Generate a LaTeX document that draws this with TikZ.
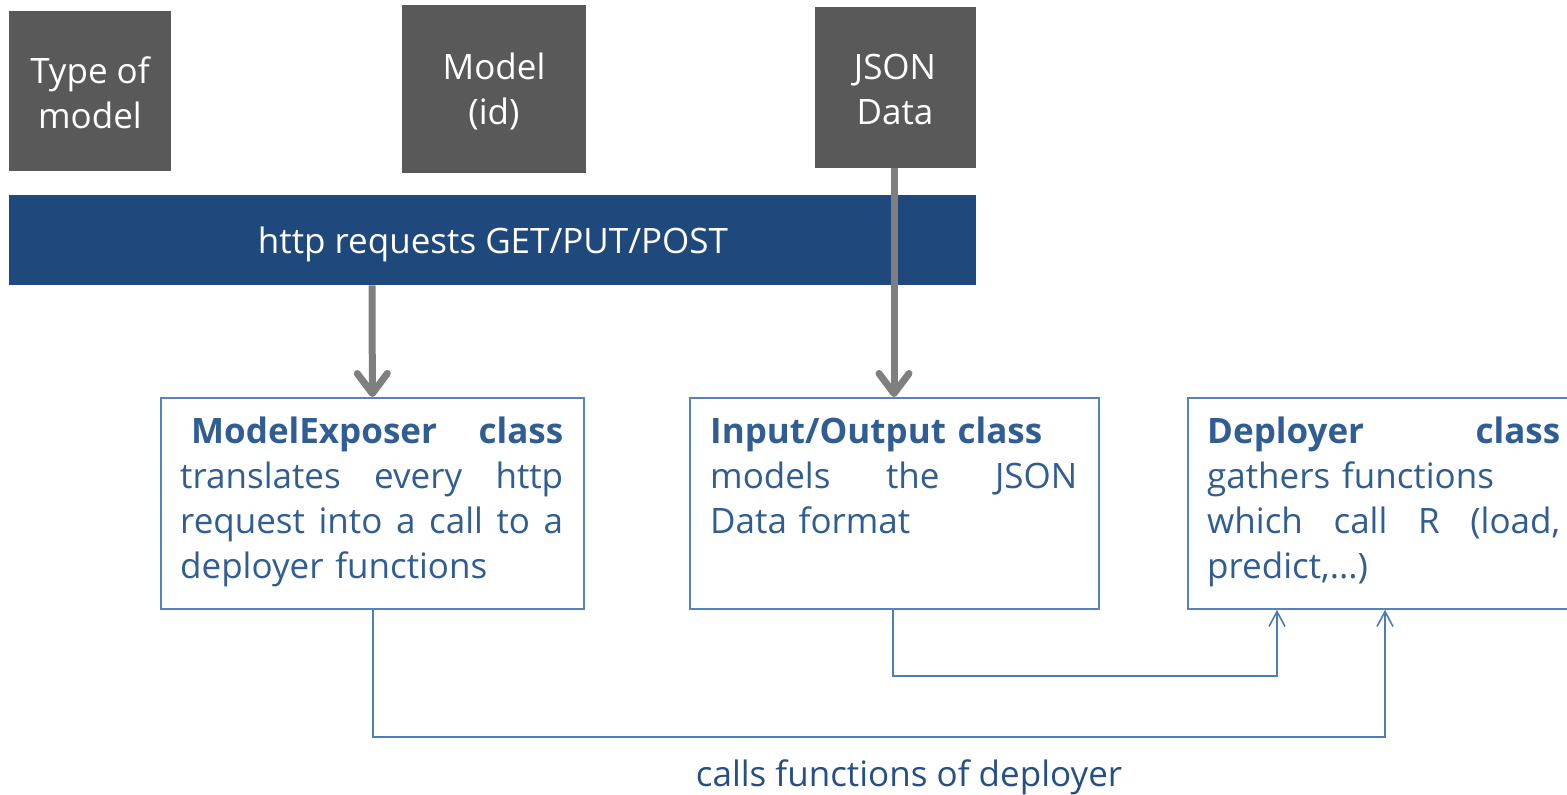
\documentclass[tikz,border=0pt]{standalone}
\usepackage{fontspec}
\setmainfont{Open Sans}
\usetikzlibrary{arrows.meta}
\definecolor{tilegray}{HTML}{595959}
\definecolor{barblue}{HTML}{1F497D}
\definecolor{frameblue}{HTML}{5483C0}
\definecolor{textblue}{HTML}{305D93}
\definecolor{wireblue}{HTML}{4A7EBB}
\definecolor{labelblue}{HTML}{264F86}
\definecolor{pipegray}{HTML}{7F7F7F}
% a line stretched to a given width
\newcommand{\spreadline}[2]{\leavevmode\hbox to #1{#2}}
\begin{document}
\begin{tikzpicture}[x=1pt,y=-1pt,
  bigfont/.style={font=\fontsize{35}{45}\selectfont},
  tile/.style={fill=tilegray, anchor=north west, inner sep=0pt},
  tiletext/.style={text=white, bigfont, align=center, inner sep=0pt},
  bar/.style={fill=barblue, anchor=north west, inner sep=0pt},
  classbox/.style={draw=frameblue, line width=1.8pt, fill=white, anchor=north west, inner sep=0pt},
  boxtext/.style={text=textblue, bigfont, align=left, anchor=north west, inner sep=0pt},
  pipe/.style={draw=pipegray, line width=7pt, -{Straight Barb[length=20pt, width=30pt, line cap=round, line join=round]}},
  wire/.style={draw=wireblue, line width=1.6pt, -{Straight Barb[length=15pt, width=16pt]}}
]
\useasboundingbox (0,0) rectangle (1567,795);
\clip (0,0) rectangle (1567,795);

% input tiles
\node[tile, minimum width=162, minimum height=160] (type) at (9,11) {};
\node[tiletext] (typetxt) at (90,93) {Type of\\model};
\node[tile, minimum width=184, minimum height=168] (model) at (402,5) {};
\node[tiletext] (modeltxt) at (494,91) {Model\\(id)};
\node[tile, minimum width=161, minimum height=161] (json) at (815,7) {};
\node[tiletext] (jsontxt) at (895,89) {JSON\\Data};

% request bar
\node[bar, minimum width=967, minimum height=90] (http) at (9,195) {};
\node[text=white, bigfont, inner sep=0pt] (httptxt) at (493,244) {http requests GET/PUT/POST};

% class boxes
\node[classbox, minimum width=423, minimum height=211] (mex) at (160,397) {};
\node[classbox, minimum width=409, minimum height=211] (io) at (689,397) {};
\node[classbox, minimum width=420, minimum height=211] (dep) at (1187,397) {};

\node[boxtext, text width=383] (mextxt) at (180,412) {%
  \spreadline{383pt}{\strut\hspace{11pt}\textbf{ModelExposer}\hfill\textbf{class}}\\
  \spreadline{383pt}{translates\hfill every\hfill http}\\
  \spreadline{383pt}{request\hfill into\hfill a\hfill call\hfill to\hfill a}\\
  deployer functions};
\node[boxtext, text width=367] (iotxt) at (710,412) {%
  \strut\textbf{Input/Output class}\\
  \spreadline{367pt}{models\hfill the\hfill JSON}\\
  Data format};
\node[boxtext, text width=353] (deptxt) at (1207,412) {%
  \spreadline{353pt}{\strut\textbf{Deployer}\hfill\textbf{class}}\\
  gathers functions\\
  \spreadline{353pt}{which\hfill call\hfill R\hfill (load,}\\
  predict,...)};

% request flows
\draw[pipe] (http.south -| 372,0) -- (mex.north);
\draw[pipe] (json.south -| 894,0) -- (io.north -| 894,0);

% calls between classes
\coordinate (c1) at (373,737);
\coordinate (c2) at (1385,737);
\coordinate (d1) at (893,676);
\coordinate (d2) at (1277,676);
\draw[wire] (mex.south -| c1) -- (c1) -- (c2) -- (dep.south -| c2);
\draw[wire] (io.south -| d1) -- (d1) -- (d2) -- (dep.south -| d2);

\node[text=labelblue, bigfont, inner sep=0pt] (calls) at (909,777) {calls functions of deployer};
\end{tikzpicture}
\end{document}
